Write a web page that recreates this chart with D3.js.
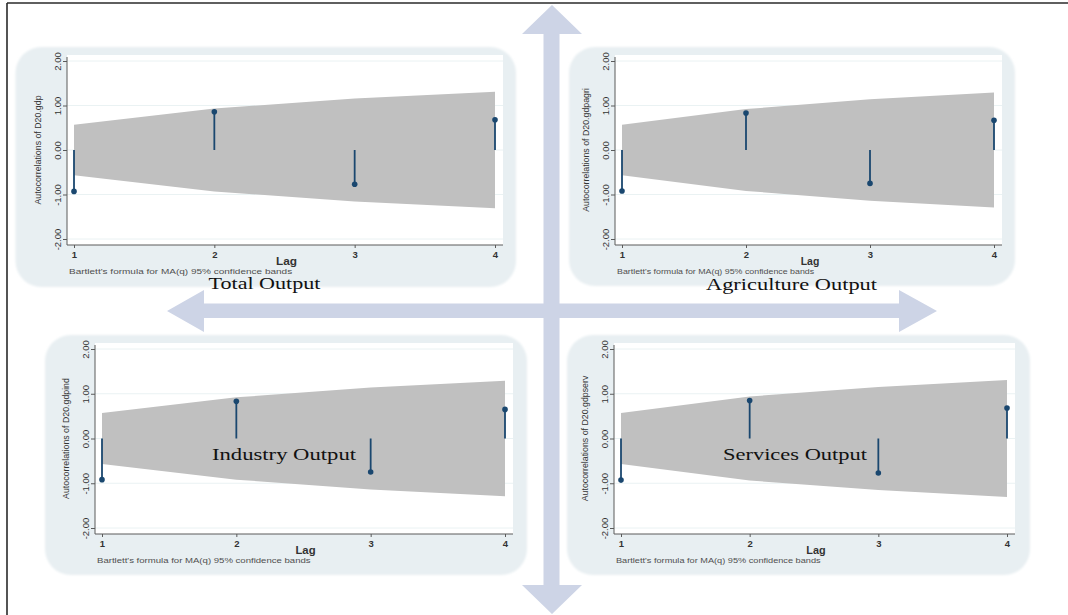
<!DOCTYPE html>
<html>
<head>
<meta charset="utf-8">
<script src="https://cdn.jsdelivr.net/npm/d3@7"></script>
<style>
  html, body { margin: 0; padding: 0; background: #ffffff; }
  svg { display: block; }
</style>
</head>
<body>
<svg id="chart" width="1068" height="615"></svg>
<script>
// ---- data ----
const lags = [1, 2, 3, 4];
const yTickValues = [-2, -1, 0, 1, 2];
const yTickLabels = ["-2.00", "-1.00", "0.00", "1.00", "2.00"];
const seriesNames = ["Total Output", "Agriculture Output", "Industry Output", "Services Output"];
const variableNames = ["D20.gdp", "D20.gdpagri", "D20.gdpind", "D20.gdpserv"];

// autocorrelations by lag
const acfTotal = [-0.93, 0.86, -0.77, 0.68];
const acfAgri  = [-0.92, 0.83, -0.75, 0.67];
const acfInd   = [-0.92, 0.83, -0.75, 0.65];
const acfServ  = [-0.93, 0.85, -0.77, 0.68];

// half-width of the Bartlett 95% confidence band by lag
const bandTotal = [0.57, 0.93, 1.16, 1.31];
const bandAgri  = [0.57, 0.92, 1.14, 1.29];
const bandInd   = [0.57, 0.92, 1.14, 1.29];
const bandServ  = [0.57, 0.94, 1.15, 1.31];

const xTitle = "Lag";
const footnote = "Bartlett's formula for MA(q) 95% confidence bands";

// ---- layout ----
const panels = [
  { bg: [15.5, 47, 516, 287], axisX: 67, right: 503, top: 55, bottom: 245,
    acf: acfTotal, band: bandTotal, variable: variableNames[0],
    label: seriesNames[0], labelX: 264.5, labelY: 289, labelLen: 112 },
  { bg: [569, 47, 1015, 286], axisX: 615, right: 1002, top: 55, bottom: 245,
    acf: acfAgri, band: bandAgri, variable: variableNames[1],
    label: seriesNames[1], labelX: 791.5, labelY: 290, labelLen: 171 },
  { bg: [45, 335, 527, 575], axisX: 95, right: 513, top: 343, bottom: 534,
    acf: acfInd, band: bandInd, variable: variableNames[2],
    label: seriesNames[2], labelX: 284, labelY: 460, labelLen: 144 },
  { bg: [567, 335, 1030, 575], axisX: 614, right: 1015, top: 343, bottom: 534,
    acf: acfServ, band: bandServ, variable: variableNames[3],
    label: seriesNames[3], labelX: 795, labelY: 460, labelLen: 144 }
];

const colors = {
  arrow: "#cdd4e6",
  region: "#e8eff2",
  grid: "#eaf2f3",
  band: "#c0c0c0",
  stem: "#1a476f",
  axis: "#5a5a5a",
  text: "#333333"
};

const svg = d3.select("#chart");

// ---- frame ----
svg.append("line").attr("x1", 7).attr("y1", 3).attr("x2", 1068).attr("y2", 3)
  .attr("stroke", "#2a2a2a").attr("stroke-width", 1.6);
svg.append("line").attr("x1", 7).attr("y1", 3).attr("x2", 7).attr("y2", 615)
  .attr("stroke", "#2a2a2a").attr("stroke-width", 1.6);

// ---- cross of arrows behind the panels ----
const arrows = svg.append("g").attr("fill", colors.arrow);
// vertical double arrow
arrows.append("polygon").attr("points", [
  [552, 5], [582, 34], [559.5, 34], [559.5, 585], [582, 585], [552, 614],
  [522, 585], [543.5, 585], [543.5, 34], [522, 34]
].map(p => p.join(",")).join(" "));
// horizontal double arrow
arrows.append("polygon").attr("points", [
  [167, 311], [204, 290], [204, 303.5], [899, 303.5], [899, 290], [937, 311],
  [899, 332], [899, 318], [204, 318], [204, 332]
].map(p => p.join(",")).join(" "));

// soft edge for the panel backgrounds
const defs = svg.append("defs");
defs.append("filter").attr("id", "soft").attr("x", "-5%").attr("y", "-5%")
  .attr("width", "110%").attr("height", "110%")
  .append("feGaussianBlur").attr("stdDeviation", 1.2);

// ---- panels ----
panels.forEach(p => {
  const g = svg.append("g");
  const [bx0, by0, bx1, by1] = p.bg;

  g.append("rect")
    .attr("x", bx0).attr("y", by0)
    .attr("width", bx1 - bx0).attr("height", by1 - by0)
    .attr("rx", 26).attr("ry", 26)
    .attr("fill", colors.region)
    .attr("filter", "url(#soft)");

  // plot region
  g.append("rect")
    .attr("x", p.axisX).attr("y", p.top)
    .attr("width", p.right - p.axisX).attr("height", p.bottom - p.top)
    .attr("fill", "#ffffff");

  const x = d3.scaleLinear().domain([1, 4]).range([p.axisX + 7, p.right - 8]);
  const y = d3.scaleLinear().domain([-2, 2]).range([p.bottom - 6, p.top + 6]);

  // grid lines
  g.append("g").selectAll("line").data(yTickValues).join("line")
    .attr("x1", p.axisX).attr("x2", p.right)
    .attr("y1", d => y(d)).attr("y2", d => y(d))
    .attr("stroke", colors.grid).attr("stroke-width", 1);

  // confidence band
  const area = d3.area()
    .x((d, i) => x(lags[i]))
    .y0(d => y(-d))
    .y1(d => y(d));
  g.append("path").datum(p.band).attr("d", area).attr("fill", colors.band);

  // axis lines
  g.append("line").attr("x1", p.axisX).attr("x2", p.axisX)
    .attr("y1", p.top + 2).attr("y2", p.bottom)
    .attr("stroke", colors.axis).attr("stroke-width", 1);
  g.append("line").attr("x1", p.axisX).attr("x2", p.right)
    .attr("y1", p.bottom).attr("y2", p.bottom)
    .attr("stroke", colors.axis).attr("stroke-width", 1);

  // y axis ticks and rotated labels
  const yAxis = d3.axisLeft(y).tickValues(yTickValues)
    .tickFormat((d, i) => yTickLabels[i]).tickSize(4).tickSizeOuter(0);
  const gy = g.append("g").attr("transform", `translate(${p.axisX},0)`).call(yAxis);
  gy.select(".domain").remove();
  gy.selectAll(".tick line").attr("stroke", colors.axis);
  gy.selectAll(".tick text")
    .attr("transform", "rotate(-90)")
    .attr("x", 0).attr("y", -6).attr("dy", 0)
    .attr("text-anchor", "middle")
    .attr("font-family", "'Liberation Sans', Arial, sans-serif")
    .attr("font-size", 9.5).attr("fill", colors.text);

  // x axis ticks and labels
  const xAxis = d3.axisBottom(x).tickValues(lags).tickFormat(d3.format("d"))
    .tickSize(3).tickSizeOuter(0).tickPadding(3);
  const gx = g.append("g").attr("transform", `translate(0,${p.bottom})`).call(xAxis);
  gx.select(".domain").remove();
  gx.selectAll(".tick line").attr("stroke", colors.axis);
  gx.selectAll(".tick text")
    .attr("font-family", "'Liberation Sans', Arial, sans-serif")
    .attr("font-size", 9.5).attr("font-weight", "bold").attr("fill", colors.text);

  // stems and markers
  g.append("g").selectAll("line").data(p.acf).join("line")
    .attr("x1", (d, i) => x(lags[i])).attr("x2", (d, i) => x(lags[i]))
    .attr("y1", y(0)).attr("y2", d => y(d))
    .attr("stroke", colors.stem).attr("stroke-width", 1.8);
  g.append("g").selectAll("circle").data(p.acf).join("circle")
    .attr("cx", (d, i) => x(lags[i])).attr("cy", d => y(d))
    .attr("r", 2.8).attr("fill", colors.stem);

  const span = x(4) - x(1);

  // y axis title
  g.append("text")
    .attr("transform", `translate(${p.axisX - 26},${(p.top + p.bottom) / 2}) rotate(-90)`)
    .attr("text-anchor", "middle")
    .attr("font-family", "'Liberation Sans', Arial, sans-serif")
    .attr("font-size", 8.8).attr("fill", colors.text)
    .text("Autocorrelations of " + p.variable);

  // x axis title
  g.append("text")
    .attr("x", (x(1) + x(4)) / 2 + 2).attr("y", p.bottom + 20)
    .attr("text-anchor", "middle")
    .attr("font-family", "'Liberation Sans', Arial, sans-serif")
    .attr("font-size", 10).attr("font-weight", "bold").attr("fill", colors.text)
    .attr("textLength", span * 0.05).attr("lengthAdjust", "spacingAndGlyphs")
    .text(xTitle);

  // note under the axis
  g.append("text")
    .attr("x", p.axisX + 2).attr("y", p.bottom + 28.5)
    .attr("font-family", "'Liberation Sans', Arial, sans-serif")
    .attr("font-size", 7.5).attr("fill", "#505050")
    .attr("textLength", span * 0.53).attr("lengthAdjust", "spacingAndGlyphs")
    .text(footnote);

  // series caption
  svg.append("text")
    .attr("x", p.labelX).attr("y", p.labelY)
    .attr("text-anchor", "middle")
    .attr("font-family", "'Liberation Serif', 'Times New Roman', serif")
    .attr("font-size", 17).attr("fill", "#111111")
    .attr("textLength", p.labelLen).attr("lengthAdjust", "spacingAndGlyphs")
    .text(p.label);
});
</script>
</body>
</html>
